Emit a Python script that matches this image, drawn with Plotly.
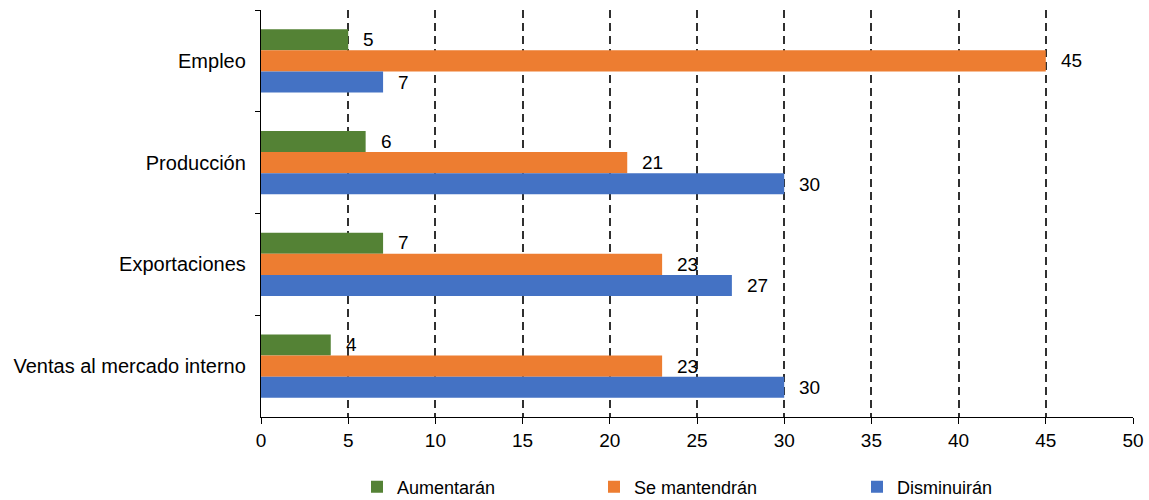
import plotly.graph_objects as go

# Survey categories (top to bottom) and answer shares
categorias = ["Empleo", "Producción", "Exportaciones", "Ventas al mercado interno"]
aumentaran = [5, 6, 7, 4]
se_mantendran = [45, 21, 23, 23]
disminuiran = [7, 30, 27, 30]

series = [
    ("Aumentarán", aumentaran, "#548235", "legend", 357),
    ("Se mantendrán", se_mantendran, "#ED7D31", "legend2", 594),
    ("Disminuirán", disminuiran, "#4472C4", "legend3", 857),
]

FONT = "Liberation Sans, Arial, sans-serif"

fig = go.Figure()
for nombre, valores, color, leg, _ in series:
    fig.add_trace(go.Bar(
        y=categorias, x=valores, name=nombre, orientation="h",
        marker=dict(color=color, line=dict(width=0)),
        legend=leg,
    ))

# Value labels just past the end of each bar
annotations = []
for idx, (nombre, valores, color, leg, _) in enumerate(series):
    for cat, v in zip(categorias, valores):
        annotations.append(dict(
            x=v, y=cat, xref="x", yref="y", text=str(v), showarrow=False,
            xanchor="left", yanchor="middle", xshift=13,
            yshift=(1 - idx) * 21.5,
            font=dict(family=FONT, size=19, color="#000000"),
        ))

layout_legends = {}
for nombre, valores, color, leg, xpos in series:
    layout_legends[leg] = dict(
        xref="container", yref="container", x=xpos / 1149, y=13 / 500,
        xanchor="left", yanchor="middle", orientation="h",
        font=dict(family=FONT, size=18, color="#000000"),
        bgcolor="rgba(0,0,0,0)",
    )

fig.update_layout(
    width=1149, height=500,
    margin=dict(l=261, r=16, t=10, b=83, autoexpand=False),
    paper_bgcolor="white", plot_bgcolor="white",
    barmode="group", bargap=0.38, bargroupgap=0,
    font=dict(family=FONT, size=19, color="#000000"),
    annotations=annotations,
    showlegend=True,
    **layout_legends,
)

fig.update_xaxes(
    range=[0, 50], dtick=5, tick0=0, automargin=False,
    showline=True, linecolor="#000000", linewidth=1.3,
    ticks="outside", ticklen=6, tickcolor="#000000", tickwidth=1.3,
    showgrid=True, gridcolor="#303030", gridwidth=1.5, griddash="8px,5px",
    zeroline=False,
    tickfont=dict(family=FONT, size=19, color="#000000"),
)
fig.update_yaxes(
    categoryorder="array", categoryarray=categorias, autorange="reversed",
    automargin=False,
    showline=True, linecolor="#000000", linewidth=1.3,
    ticks="outside", tickson="boundaries", ticklen=5, tickcolor="#000000", tickwidth=1.3,
    showgrid=False, zeroline=False, ticklabelstandoff=10,
    tickfont=dict(family=FONT, size=20, color="#000000"),
)

fig.write_html("out.html")
